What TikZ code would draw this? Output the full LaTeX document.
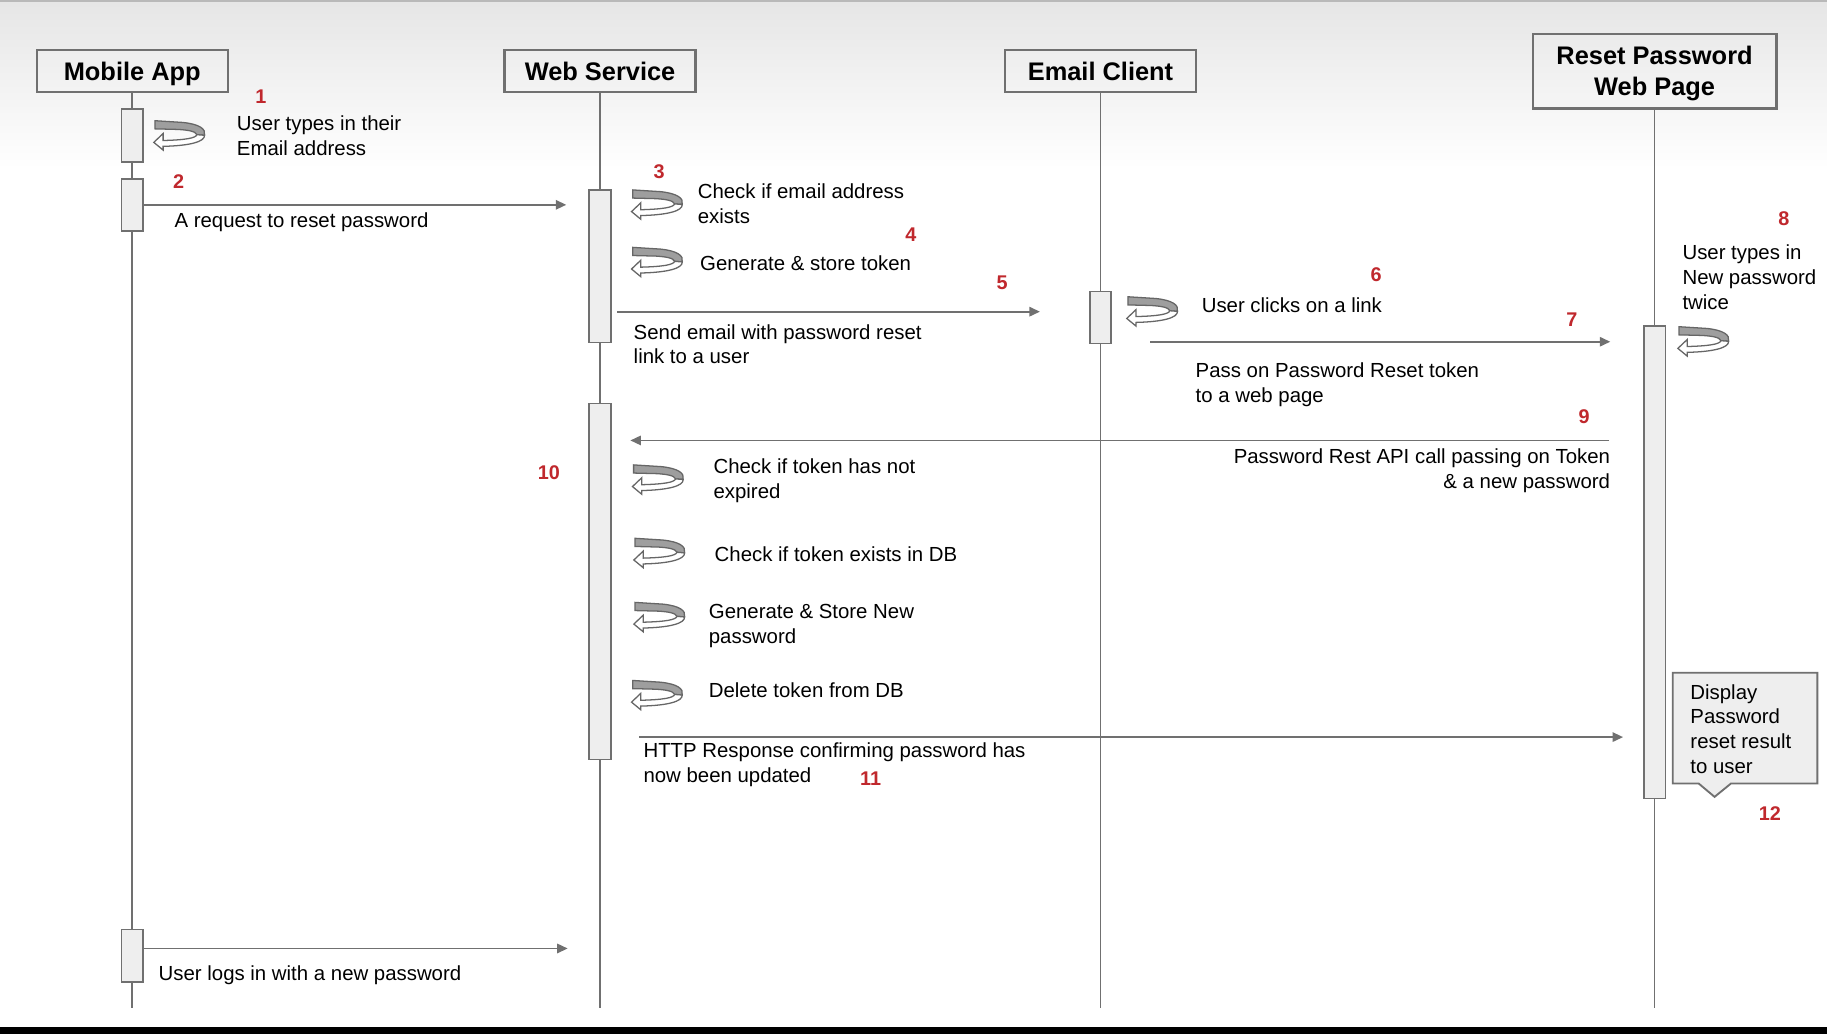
\documentclass[tikz,border=0pt]{standalone}
\usepackage{fontspec}
\setmainfont{Liberation Sans}
\usetikzlibrary{arrows.meta}
\definecolor{linegray}{HTML}{707070}
\definecolor{barfill}{HTML}{EEEEEE}
\definecolor{loopgray}{HTML}{9E9E9E}
\definecolor{stepred}{HTML}{C0282D}
\begin{document}
\begin{tikzpicture}[x=0.5pt,y=-0.5pt,
  actor/.style={draw=linegray,line width=1pt,font=\fontsize{10.9}{13.2}\selectfont\bfseries,align=center,inner sep=0pt,text depth=0pt},
  bar/.style={draw=linegray,fill=barfill,line width=0.7pt,minimum width=9.25pt,inner sep=0pt},
  lifeline/.style={draw=linegray,line width=0.7pt},
  msg/.style={draw=linegray,line width=0.8pt,-{Triangle[length=4.5pt,width=4pt]}},
  txt/.style={font=\fontsize{8.75}{10.6}\selectfont,align=left,inner sep=0pt,anchor=west},
  num/.style={font=\fontsize{8.5}{10}\selectfont\bfseries,text=stepred,inner sep=0pt},
  selfcall/.pic={
    \draw[black!60,fill=loopgray,line width=0.55pt] (0,0) -- (24,1.5) .. controls (38,3) and (44,7) .. (42.5,12.5) -- (36,12) .. controls (35,9) and (28,8) .. (20,7.5) -- (0,7) -- cycle;
    \draw[black!60,fill=white,line width=0.55pt] (36,12) .. controls (35,15) and (26,16.5) .. (7,17) -- (7,11) -- (-1,18.6) -- (7,25.2) -- (7,22) .. controls (30,21.5) and (43,18) .. (42.5,12.5) -- cycle;
  }]

% background
\fill[white] (0,0) rectangle (1568,887);
\shade[top color=gray!20,bottom color=white] (0,0) rectangle (1568,145);
\fill[gray!55] (0,0) rectangle (1568,2);
\fill[black] (0,881) rectangle (1568,887);

% participants
\node[actor,minimum width=82pt,minimum height=18pt](mobile app) at (113.5,61) {Mobile App};
\node[actor,minimum width=82pt,minimum height=18pt](web service) at (515,61) {Web Service};
\node[actor,minimum width=82pt,minimum height=18pt](email client) at (944.5,61) {Email Client};
\node[actor,minimum width=104.5pt,minimum height=32pt](reset page) at (1420,61) {Reset Password\\Web Page};

\coordinate (mobile end) at (113.5,865.5);
\coordinate (web end) at (515,865.5);
\coordinate (email end) at (944.5,865.5);
\coordinate (page end) at (1420,865.5);

\draw[lifeline] (mobile app) -- (mobile end);
\draw[lifeline] (web service) -- (web end);
\draw[lifeline] (email client) -- (email end);
\draw[lifeline] (reset page) -- (page end);

% activations
\node[bar,minimum height=22.5pt](mobile bar 1) at (113.5,116.3) {};
\node[bar,minimum height=22.2pt](mobile bar 2) at (113.5,175.8) {};
\node[bar,minimum height=22.5pt](mobile bar 3) at (113.5,820.2) {};
\node[bar,minimum height=65.4pt](web bar 1) at (515,228.4) {};
\node[bar,minimum height=152.8pt](web bar 2) at (515,499) {};
\node[bar,minimum height=22.2pt](email bar) at (944.5,272.5) {};
\node[bar,minimum height=202.8pt](page bar) at (1420,482.6) {};

% self calls
\pic at (133,103.6) {selfcall};
\pic at (543,163) {selfcall};
\pic at (543,212.3) {selfcall};
\pic at (968,254.7) {selfcall};
\pic at (1441,280.4) {selfcall};
\pic at (543.8,399) {selfcall};
\pic at (545,462) {selfcall};
\pic at (545,517) {selfcall};
\pic at (543,584) {selfcall};

% messages
\coordinate (request end) at (486,175.8);
\coordinate (send start) at (529.6,267.5);
\coordinate (send end) at (892.5,267.5);
\coordinate (pass start) at (987,293.3);
\coordinate (pass end) at (1382,293.3);
\coordinate (api start) at (1381,378);
\coordinate (api end) at (541,378);
\coordinate (http start) at (548.5,632.6);
\coordinate (http end) at (1393,632.6);
\coordinate (login end) at (487.2,814);

\draw[msg] (mobile bar 2.east) to (request end);
\draw[msg] (send start) to (send end);
\draw[msg] (pass start) to (pass end);
\draw[msg] (api start) to (api end);
\draw[msg] (http start) to (http end);
\draw[msg] (mobile bar 3.east |- login end) to (login end);

% texts
\node[txt](types email) at (203,116.2) {User types in their\\Email address};
\node[txt](request text) at (149.4,190.3) {A request to reset password};
\node[txt](check email) at (598.5,175) {Check if email address\\exists};
\node[txt](store token) at (600.5,226) {Generate \& store token};
\node[txt](send text) at (543.5,295.5) {Send email with password reset\\link to a user};
\node[txt](clicks link) at (1031,261.8) {User clicks on a link};
\node[txt](pass text) at (1025.8,330.2) {Pass on Password Reset token\\to a web page};
\node[txt](types password) at (1443.6,238) {User types in\\New password\\twice};
\node[txt,anchor=east,align=right](api text) at (1382.2,403.9) {Password Rest API call passing on Token\\\& a new password};
\node[txt](check expired) at (612,412.5) {Check if token has not\\expired};
\node[txt](check db) at (613,476) {Check if token exists in DB};
\node[txt](store password) at (608,537) {Generate \& Store New\\password};
\node[txt](delete token) at (608,592) {Delete token from DB};
\node[txt](http text) at (551.9,656.3) {HTTP Response confirming password has\\now been updated};
\node[txt](login text) at (135.8,837) {User logs in with a new password};

% note
\draw[linegray,fill=barfill,line width=0.8pt] (1435.6,577.4) -- (1559.7,577.4) -- (1559.7,672.4) -- (1485.6,672.4) -- (1471.5,683.9) -- (1457.8,672.4) -- (1435.6,672.4) -- cycle;
\node[txt](note) at (1450.4,625.6) {Display\\Password\\reset result\\to user};

% step numbers
\node[num](n1) at (224,83) {1};
\node[num](n2) at (153.3,156) {2};
\node[num](n3) at (565.7,147.4) {3};
\node[num](n4) at (781.7,201) {4};
\node[num](n5) at (860,243) {5};
\node[num](n6) at (1181,236) {6};
\node[num](n7) at (1349,274.7) {7};
\node[num](n8) at (1531,188) {8};
\node[num](n9) at (1359.6,357.7) {9};
\node[num](n10) at (471,406) {10};
\node[num](n11) at (747.2,668) {11};
\node[num](n12) at (1519,698) {12};

\end{tikzpicture}
\end{document}
